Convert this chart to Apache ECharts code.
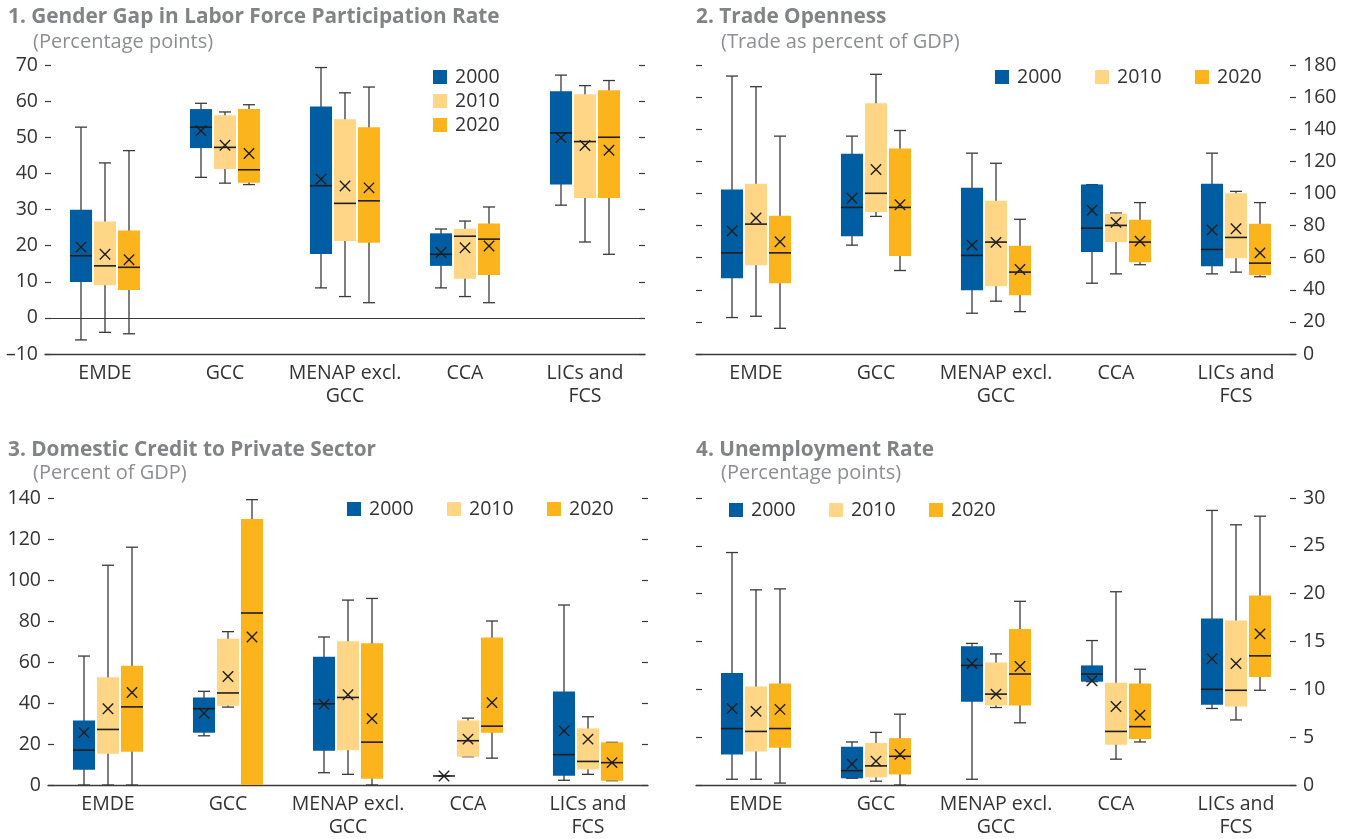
<!DOCTYPE html>
<html><head><meta charset="utf-8">
<script src="https://cdn.jsdelivr.net/npm/echarts@6/dist/echarts.min.js"></script>
<style>html,body{margin:0;padding:0;background:#fff}#c{width:1347px;height:839px}</style>
</head><body><div id="c"></div>
<script>
const categories = ['EMDE', 'GCC', 'MENAP excl.\nGCC', 'CCA', 'LICs and\nFCS'];
const years = ['2000', '2010', '2020'];
const colors = ['#005da2', '#fed685', '#fbb41c'];

// each row: [min, Q1, median, Q3, max, mean] per category
const gender2000 = [[-6.1, 9.9, 17.2, 29.9, 52.8, 19.6], [38.9, 47.0, 52.8, 57.8, 59.4, 51.8], [8.3, 17.7, 36.6, 58.5, 69.3, 38.4], [8.3, 14.4, 17.6, 23.4, 24.6, 18.1], [31.2, 36.9, 51.2, 62.7, 67.2, 49.9]];
const gender2010 = [[-4.0, 9.0, 14.4, 26.7, 42.9, 17.6], [37.3, 41.2, 47.2, 56.1, 57.0, 47.8], [5.9, 21.3, 31.7, 55.0, 62.3, 36.5], [5.9, 10.8, 22.6, 24.7, 26.8, 19.4], [21.0, 33.2, 48.8, 61.9, 64.3, 47.7]];
const gender2020 = [[-4.4, 7.7, 14.0, 24.2, 46.3, 16.1], [36.9, 37.4, 41.0, 57.8, 59.0, 45.5], [4.2, 20.8, 32.4, 52.8, 63.9, 36.0], [4.2, 11.9, 21.8, 26.1, 30.7, 19.9], [17.6, 33.2, 50.0, 63.0, 65.7, 46.4]];

const trade2000 = [[22.7, 47.2, 63.0, 102.4, 173.1, 76.6], [67.8, 73.4, 91.3, 124.8, 135.7, 97.0], [25.4, 39.7, 61.4, 103.6, 125.1, 67.8], [44.1, 63.5, 78.4, 105.5, 105.5, 89.5], [49.9, 54.7, 65.1, 106.1, 125.1, 77.2]];
const trade2010 = [[23.5, 55.3, 80.9, 106.1, 166.5, 84.7], [85.7, 88.4, 100.1, 156.1, 174.2, 114.9], [32.9, 42.2, 69.7, 95.5, 118.8, 69.5], [49.9, 69.7, 80.1, 87.4, 87.8, 82.0], [51.0, 59.7, 72.6, 100.1, 101.3, 78.0]];
const trade2020 = [[16.0, 44.1, 63.0, 86.1, 135.7, 69.9], [52.0, 61.0, 91.3, 128.0, 139.2, 93.0], [26.4, 36.6, 51.0, 67.4, 83.9, 52.6], [55.6, 57.2, 69.7, 83.6, 94.3, 70.3], [48.1, 49.1, 56.6, 81.1, 94.3, 63.0]];

const credit2000 = [[0, 7.5, 17.0, 31.5, 62.9, 25.6], [24.0, 25.5, 37.2, 42.7, 45.7, 35.0], [6.0, 16.7, 39.6, 62.6, 72.2, 39.4], [4.4, 4.4, 4.4, 4.4, 4.4, 4.4], [2.3, 4.5, 14.8, 45.6, 87.8, 26.4]];
const credit2010 = [[0, 15.2, 27.1, 52.6, 107.2, 37.2], [38.0, 38.6, 44.9, 71.4, 74.8, 52.9], [5.2, 17.0, 42.7, 70.1, 90.2, 44.0], [13.8, 13.8, 21.6, 31.5, 32.6, 22.4], [5.2, 7.6, 11.5, 27.6, 33.3, 22.4]];
const credit2020 = [[0, 16.2, 38.1, 58.2, 116.0, 45.1], [0, 0, 83.9, 129.8, 139.2, 72.2], [0, 3.1, 20.9, 69.1, 91.0, 32.4], [13.1, 25.5, 28.7, 71.9, 80.0, 40.2], [2.1, 2.1, 10.9, 20.8, 20.8, 10.9]];

const unemp2000 = [[0.6, 3.2, 5.9, 11.7, 24.3, 8.0], [0.7, 0.7, 1.5, 4.0, 4.5, 2.2], [0.6, 8.7, 12.5, 14.5, 14.8, 12.7], [10.8, 10.8, 11.6, 12.5, 15.1, 10.9], [8.0, 8.4, 10.0, 17.4, 28.7, 13.2]];
const unemp2010 = [[0.6, 3.5, 5.6, 10.3, 20.4, 7.7], [0.4, 0.8, 2.0, 4.4, 5.5, 2.5], [8.1, 8.3, 9.5, 12.8, 13.7, 9.5], [2.7, 4.2, 5.6, 10.7, 20.2, 8.2], [6.8, 8.2, 9.9, 17.2, 27.2, 12.7]];
const unemp2020 = [[0.2, 3.9, 5.9, 10.6, 20.5, 7.9], [0, 1.1, 3.0, 4.9, 7.4, 3.2], [6.5, 8.3, 11.6, 16.3, 19.2, 12.4], [4.5, 4.8, 6.1, 10.6, 12.1, 7.3], [9.9, 11.3, 13.5, 19.8, 28.1, 15.8]];

const panelTitles = ['1. Gender Gap in Labor Force Participation Rate', '2. Trade Openness', '3. Domestic Credit to Private Sector', '4. Unemployment Rate'];
const panelSubtitles = ['(Percentage points)', '(Trade as percent of GDP)', '(Percent of GDP)', '(Percentage points)'];
const yRanges = [[-10, 70, 10], [0, 180, 20], [0, 140, 20], [0, 30, 5]];

const panelData = [
  [gender2000, gender2010, gender2020],
  [trade2000, trade2010, trade2020],
  [credit2000, credit2010, credit2020],
  [unemp2000, unemp2010, unemp2020]
];

const FONT = '"Open Sans", "Noto Sans", sans-serif';
const TXT = '#333333';
const LINE = '#3a3a3a';

const grids = [
  { left: 45, top: 65, width: 600, height: 289 },
  { left: 696, top: 65, width: 600, height: 289 },
  { left: 48, top: 498, width: 600, height: 288 },
  { left: 696, top: 498, width: 600, height: 288 }
];
const labelSide = ['left', 'right', 'left', 'right'];
const titlePos = [[8, 5, 33, 30], [696, 5, 721, 30], [8, 438, 33, 461], [696, 438, 721, 461]];

const offsets = [-0.2, 0, 0.2];

function makeRender(k, color) {
  return function (params, api) {
    const ci = api.value(0);
    const band = api.size([1, 0])[0];
    const cx = api.coord([ci, 0])[0] + offsets[k] * band;
    const yv = i => api.coord([ci, api.value(i)])[1];
    const yMin = yv(1), yQ1 = yv(2), yMed = yv(3), yQ3 = yv(4), yMax = yv(5), yMean = yv(6);
    const bw = band * 0.184;
    const cap = band * 0.1;
    const m = 5.2;
    const ls = { stroke: LINE, lineWidth: 1.3 };
    const dk = { stroke: '#1e1e1e', lineWidth: 1.4 };
    return {
      type: 'group',
      children: [
        { type: 'line', shape: { x1: cx, y1: yMax, x2: cx, y2: yMin }, style: ls },
        { type: 'line', shape: { x1: cx - cap / 2, y1: yMax, x2: cx + cap / 2, y2: yMax }, style: ls },
        { type: 'line', shape: { x1: cx - cap / 2, y1: yMin, x2: cx + cap / 2, y2: yMin }, style: ls },
        { type: 'rect', shape: { x: cx - bw / 2, y: yQ3, width: bw, height: yQ1 - yQ3 }, style: { fill: color } },
        { type: 'line', shape: { x1: cx - bw / 2, y1: yMed, x2: cx + bw / 2, y2: yMed }, style: { stroke: '#1e1e1e', lineWidth: 1.6 } },
        { type: 'line', shape: { x1: cx - m, y1: yMean - m, x2: cx + m, y2: yMean + m }, style: dk },
        { type: 'line', shape: { x1: cx - m, y1: yMean + m, x2: cx + m, y2: yMean - m }, style: dk }
      ]
    };
  };
}

const option = {
  animation: false,
  backgroundColor: '#ffffff',
  textStyle: { fontFamily: FONT },
  title: [],
  legend: [],
  grid: grids,
  xAxis: [],
  yAxis: [],
  series: []
};

for (let g = 0; g < 4; g++) {
  const tp = titlePos[g];
  option.title.push({ text: panelTitles[g], left: tp[0], top: tp[1], padding: 0,
    textStyle: { fontFamily: FONT, fontSize: 20.8, fontWeight: 'bold', color: '#818386', lineHeight: 24 } });
  option.title.push({ text: panelSubtitles[g], left: tp[2], top: tp[3], padding: 0,
    textStyle: { fontFamily: FONT, fontSize: 20, fontWeight: 'normal', color: '#8c8e91', lineHeight: 24 } });

  option.xAxis.push({
    type: 'category', gridIndex: g, data: categories,
    axisLine: { onZero: false, lineStyle: { color: LINE, width: 1.3 } },
    axisTick: { inside: true, length: 7, lineStyle: { color: LINE, width: 1.3 } },
    axisLabel: { interval: 0, margin: 8, fontFamily: FONT, fontSize: 19.5, color: TXT, lineHeight: 23 },
    splitLine: { show: false }
  });
  const r = yRanges[g];
  const other = labelSide[g] === 'left' ? 'right' : 'left';
  option.yAxis.push({
    type: 'value', gridIndex: g, position: labelSide[g], min: r[0], max: r[1], interval: r[2],
    axisLine: { show: false },
    axisTick: { show: true, inside: true, length: 6, lineStyle: { color: LINE, width: 1.2 } },
    axisLabel: { margin: 7, fontFamily: FONT, fontSize: 19.5, color: TXT,
      formatter: v => (v < 0 ? '\u2013' + Math.abs(v) : String(v)) },
    splitLine: { show: false }
  });
  option.yAxis.push({
    type: 'value', gridIndex: g, position: other, min: r[0], max: r[1], interval: r[2],
    axisLine: { show: false },
    axisTick: { show: true, inside: true, length: 6, lineStyle: { color: LINE, width: 1.2 } },
    axisLabel: { show: false },
    splitLine: { show: false }
  });

  for (let k = 0; k < 3; k++) {
    const rows = panelData[g][k];
    const s = {
      type: 'custom', name: years[k], xAxisIndex: g, yAxisIndex: 2 * g,
      itemStyle: { color: colors[k] },
      encode: { x: 0, y: [1, 2, 3, 4, 5, 6] },
      renderItem: makeRender(k, colors[k]),
      data: rows.map((row, i) => [i].concat(row)),
      z: 3
    };
    if (g === 0 && k === 0) {
      s.markLine = { silent: true, symbol: 'none', label: { show: false },
        lineStyle: { color: LINE, width: 1.2, type: 'solid' }, data: [{ yAxis: 0 }] };
    }
    option.series.push(s);
  }
}

const legendBase = {
  data: years, icon: 'rect', itemWidth: 14, itemHeight: 14, selectedMode: false,
  padding: 0,
  textStyle: { fontFamily: FONT, fontSize: 19.5, color: TXT, lineHeight: 14, width: 48, padding: [0, 0, 0, 3] }
};
option.legend = [
  Object.assign({}, legendBase, { orient: 'vertical', left: 433, top: 67, itemGap: 4 }),
  Object.assign({}, legendBase, { orient: 'horizontal', left: 995, top: 67, itemGap: 30 }),
  Object.assign({}, legendBase, { orient: 'horizontal', left: 347, top: 499, itemGap: 30 }),
  Object.assign({}, legendBase, { orient: 'horizontal', left: 729, top: 500, itemGap: 30 })
];

const chart = echarts.init(document.getElementById('c'), null, { renderer: 'canvas' });
chart.setOption(option);
</script>
</body></html>
